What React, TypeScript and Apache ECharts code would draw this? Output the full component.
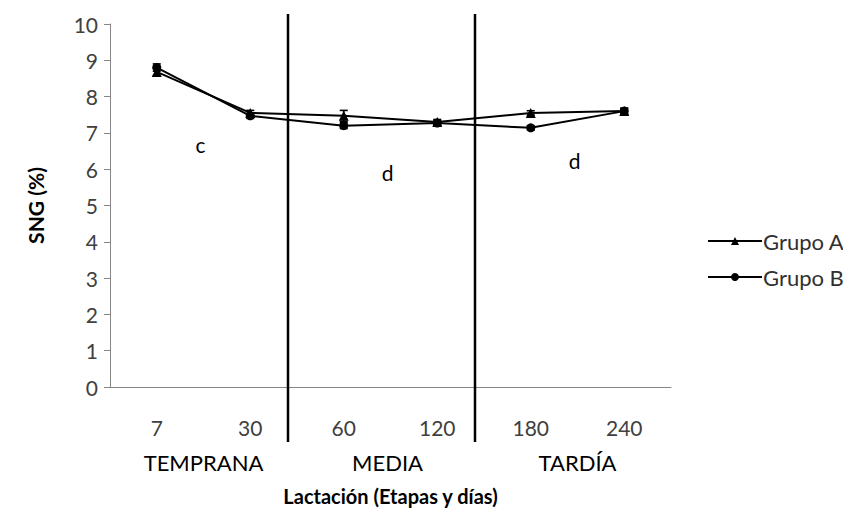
import React, { useEffect, useRef } from "react";
import * as echarts from "echarts";

// Días de lactación (categorías del eje X)
const dias = ["7", "30", "60", "120", "180", "240"];
// Etapas de lactación, cada una abarca dos categorías
const etapas = ["TEMPRANA", "MEDIA", "TARDÍA"];
// Letras de significancia por etapa y su altura (SNG %)
const letras = ["c", "d", "d"];
const letraValor = [6.67, 5.92, 6.25];

// SNG (%) medio por grupo
const grupoA = [8.68, 7.55, 7.47, 7.3, 7.55, 7.6];
const grupoB = [8.8, 7.47, 7.2, 7.27, 7.14, 7.6];
// Error estándar
const errA = [0.1, 0.07, 0.15, 0.07, 0.06, 0.08];
const errB = [0.1, 0.07, 0.08, 0.07, 0.06, 0.08];

const FONT = "Lato, 'Open Sans', sans-serif";

function errorSeries(name: string, values: number[], errs: number[]) {
  return {
    type: "custom",
    name: name + "-err",
    z: 3,
    silent: true,
    data: values.map((v, i) => [i, v - errs[i], v + errs[i]]),
    renderItem: (params: any, api: any) => {
      const x = api.value(0);
      const lo = api.coord([x, api.value(1)]);
      const hi = api.coord([x, api.value(2)]);
      const w = 4;
      const style = { stroke: "#000", lineWidth: 1.6 };
      return {
        type: "group",
        children: [
          { type: "line", shape: { x1: lo[0], y1: lo[1], x2: hi[0], y2: hi[1] }, style },
          { type: "line", shape: { x1: lo[0] - w, y1: lo[1], x2: lo[0] + w, y2: lo[1] }, style },
          { type: "line", shape: { x1: hi[0] - w, y1: hi[1], x2: hi[0] + w, y2: hi[1] }, style },
        ],
      };
    },
  };
}

export default function App() {
  const ref = useRef<HTMLDivElement>(null);

  useEffect(() => {
    if (!ref.current) return;
    const chart = echarts.init(ref.current, undefined, { renderer: "svg" });
    const lineStyle = { color: "#000", width: 2 };
    chart.setOption({
      animation: false,
      backgroundColor: "#fff",
      grid: { left: 110, top: 24, right: 180, bottom: 135 },
      legend: {
        orient: "vertical",
        left: 702,
        top: 225,
        itemWidth: 54,
        itemHeight: 10,
        itemGap: 14,
        data: ["Grupo A", "Grupo B"],
        textStyle: { fontFamily: FONT, fontSize: 22, color: "#303030", padding: [0, 0, 0, -4] },
      },
      xAxis: {
        type: "category",
        data: dias,
        boundaryGap: true,
        axisLine: { lineStyle: { color: "#868686", width: 1 } },
        axisTick: { show: false },
        axisLabel: { fontFamily: FONT, fontSize: 21, color: "#404040", margin: 30 },
        name: "Lactación (Etapas y días)",
        nameLocation: "middle",
        nameGap: 99,
        nameTextStyle: { fontFamily: FONT, fontSize: 20, fontWeight: "bold", color: "#000" },
      },
      yAxis: {
        type: "value",
        min: 0,
        max: 10,
        interval: 1,
        splitLine: { show: false },
        axisLine: { show: true, lineStyle: { color: "#868686", width: 1 } },
        axisTick: { show: true, length: 6, lineStyle: { color: "#868686" } },
        axisLabel: { fontFamily: FONT, fontSize: 21, color: "#404040", margin: 12 },
        name: "SNG (%)",
        nameLocation: "middle",
        nameGap: 64,
        nameTextStyle: { fontFamily: FONT, fontSize: 21, fontWeight: "bold", color: "#000" },
      },
      series: [
        {
          type: "line",
          name: "Grupo A",
          data: grupoA,
          symbol: "triangle",
          symbolSize: 10,
          color: "#000",
          itemStyle: { color: "#000" },
          lineStyle,
          z: 4,
        },
        {
          type: "line",
          name: "Grupo B",
          data: grupoB,
          symbol: "circle",
          symbolSize: 9,
          color: "#000",
          itemStyle: { color: "#000" },
          lineStyle,
          z: 4,
        },
        errorSeries("Grupo A", grupoA, errA),
        errorSeries("Grupo B", grupoB, errB),
      ],
    });

    // Separadores de etapas, nombres de etapas y letras de significancia
    const px = (cat: number, val: number) => chart.convertToPixel({ gridIndex: 0 }, [cat, val]) as number[];
    const step = px(1, 0)[0] - px(0, 0)[0];
    const graphics: any[] = [];
    [1, 3].forEach((i) => {
      const x = Math.round(px(i, 0)[0] + step / 2 - 9);
      graphics.push({
        type: "line",
        shape: { x1: x, y1: 14, x2: x, y2: 442 },
        style: { stroke: "#000", lineWidth: 2.5 },
        z: 10,
      });
    });
    etapas.forEach((e, k) => {
      const x = (px(2 * k, 0)[0] + px(2 * k + 1, 0)[0]) / 2 + (k === 1 ? -3 : 0);
      graphics.push({
        type: "text",
        x,
        y: 462,
        style: {
          text: e,
          fontFamily: FONT,
          fontSize: 22,
          fill: "#000",
          align: "center",
          verticalAlign: "middle",
        },
      });
    });
    letras.forEach((l, k) => {
      const x = (px(2 * k, 0)[0] + px(2 * k + 1, 0)[0]) / 2 - 3;
      const y = px(2 * k, letraValor[k])[1];
      graphics.push({
        type: "text",
        x,
        y,
        style: {
          text: l,
          fontFamily: FONT,
          fontSize: 21,
          fill: "#000",
          align: "center",
          verticalAlign: "middle",
        },
      });
    });
    chart.setOption({ graphic: graphics });

    return () => chart.dispose();
  }, []);

  return <div ref={ref} style={{ width: 851, height: 522, margin: -8 }} />;
}
